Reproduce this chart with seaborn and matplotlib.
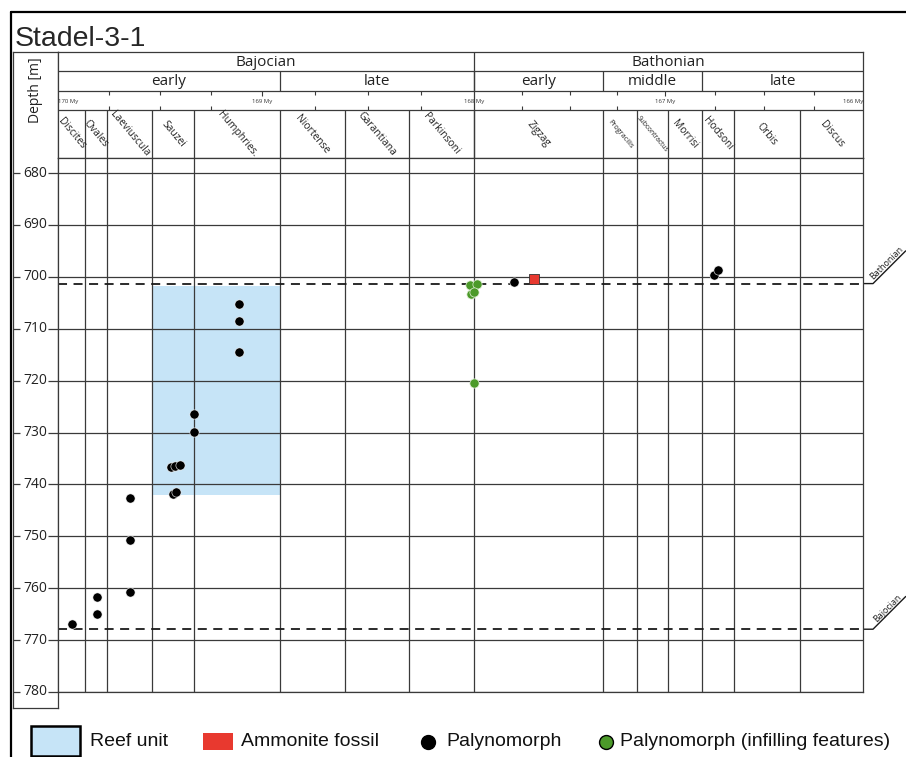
import numpy as np
import matplotlib.pyplot as plt
import matplotlib.transforms as mtransforms
from matplotlib.patches import Rectangle
import seaborn as sns

# ── data ───────────────────────────────────────────────────────────────────
STAGES = ["Bajocian", "Bathonian"]
STAGE_BOUNDS = [170.0, 168.0, 166.0]

SUBSTAGES = ["early", "late", "early", "middle", "late"]
SUBSTAGE_BOUNDS = [170.0, 168.915, 168.0, 167.325, 166.813, 166.0]

ZONES = ["Discites", "Ovales", "Laeviuscula", "Sauzei", "Humphries.",
         "Niortense", "Garantiana", "Parkinsoni", "Zigzag", "Progracilis",
         "Subcontractus", "Morrisi", "Hodsoni", "Orbis", "Discus"]
ZONE_BOUNDS = [170.0, 169.868, 169.760, 169.539, 169.333, 168.915, 168.608,
               168.307, 168.0, 167.325, 167.147, 166.985, 166.813, 166.652,
               166.318, 166.0]

MY_LABELS = [170, 169, 168, 167, 166]
DEPTH_TICKS = [680, 690, 700, 710, 720, 730, 740, 750, 760, 770, 780]

palyno_age = [169.933, 169.809, 169.809, 169.647, 169.647, 169.647,
              169.448, 169.426, 169.402, 169.438, 169.422,
              169.333, 169.333, 169.113, 169.113, 169.113,
              167.791, 166.753, 166.734]
palyno_depth = [766.9, 761.7, 765.0, 742.6, 750.7, 760.8,
                736.7, 736.4, 736.3, 741.9, 741.5,
                726.4, 729.9, 705.2, 708.6, 714.5,
                700.9, 699.7, 698.7]

infill_age = [168.019, 167.986, 168.016, 167.998, 168.0]
infill_depth = [701.6, 701.4, 703.3, 702.9, 720.4]

ammonite_age = [167.686]
ammonite_depth = [700.5]

reef_age = [169.539, 168.915]
reef_depth = [701.8, 742.0]

BOUNDARY_NAMES = ["Bathonian", "Bajocian"]
BOUNDARY_DEPTHS = [701.3, 767.9]

# ── style / layout ─────────────────────────────────────────────────────────
W, H = 906, 757
LINE = "#3a3a3a"
REEF = "#C6E4F7"
RED = "#E8392F"
GREEN = "#4C9A2A"
SMALL_ZONES = {"Progracilis": 5.2, "Subcontractus": 4.8}
DEPTH_TOP = 677.1

# piecewise age axis (the printed time scale is not quite linear);
# positions counted from the young (right) end so the mapping is increasing
AGE_KNOTS = np.array([166.0, 167.0, 168.0, 169.0, 170.0])
POS_KNOTS = np.array([0.0, 198.0, 389.0, 601.0, 805.0])


def _fwd(a):
    return np.interp(np.asarray(a, float), AGE_KNOTS, POS_KNOTS)


def _inv(p):
    return np.interp(np.asarray(p, float), POS_KNOTS, AGE_KNOTS)


def age_axis(ax):
    ax.set_xscale("function", functions=(_fwd, _inv))
    ax.set_xlim(170, 166)
    ax.set_xticks([])


def mid_age(a0, a1):
    return float(_inv((_fwd(a0) + _fwd(a1)) / 2))


sns.set_theme(style="white")
plt.rcParams["font.family"] = ["Open Sans", "DejaVu Sans"]

fig = plt.figure(figsize=(W / 100, H / 100), dpi=100)


def px_axes(x0, y0, x1, y1, **kw):
    return fig.add_axes([x0 / W, 1 - y1 / H, (x1 - x0) / W, (y1 - y0) / H], **kw)


# overlay in pixel coordinates: frame, title, legend
over = px_axes(0, 0, W, H, zorder=0)
over.set_xlim(0, W)
over.set_ylim(H, 0)
over.axis("off")
over.plot([11, 11], [H, 12], color="black", lw=1.6)
over.plot([11, W], [12, 12], color="black", lw=1.6)
over.text(15, 46, "Stadel-3-1", fontsize=20.5, va="baseline", ha="left",
          family="Liberation Sans")

# ── depth column ───────────────────────────────────────────────────────────
k = (692 - 158) / (780 - DEPTH_TOP)   # px per metre
dax = px_axes(13, 52, 58, 708, zorder=1)
dax.set_ylim(780 + 16 / k, DEPTH_TOP - 106 / k)
dax.set_xlim(0, 1)
dax.set_xticks([])
dax.set_yticks(DEPTH_TICKS)
dax.tick_params(axis="y", left=True, direction="in", length=5, width=0.9,
                color=LINE, labelleft=False)
for s in dax.spines.values():
    s.set_color(LINE)
    s.set_linewidth(0.9)
blend = mtransforms.blended_transform_factory(dax.transAxes, dax.transData)
for d in DEPTH_TICKS:
    dax.text(0.765, d, f"{d}", transform=blend, ha="right", va="center",
             fontsize=10, color="#222222")
dax.text(0.5, 0.942, "Depth [m]", transform=dax.transAxes, rotation=90,
         ha="center", va="center", fontsize=10, color="#222222")

# ── header ─────────────────────────────────────────────────────────────────
hax = px_axes(58, 52, 863, 158, zorder=1)
age_axis(hax)
hax.set_ylim(158, 52)
hax.set_yticks([])
for s in hax.spines.values():
    s.set_color(LINE)
    s.set_linewidth(0.9)
ROW_SUB, ROW_ZONE = (71, 91), (110, 158)
hax.hlines([71, 91, 110], 170, 166, color=LINE, lw=0.9)
hax.vlines(STAGE_BOUNDS[1:-1], 52, 158, color=LINE, lw=0.9)
hax.vlines(SUBSTAGE_BOUNDS[1:-1], *ROW_SUB, color=LINE, lw=0.9)
hax.vlines(ZONE_BOUNDS[1:-1], *ROW_ZONE, color=LINE, lw=0.9)

for name, a0, a1 in zip(STAGES, STAGE_BOUNDS[:-1], STAGE_BOUNDS[1:]):
    hax.text(mid_age(a0, a1), 62, name, ha="center", va="center",
             fontsize=11, color="#222")
for name, a0, a1 in zip(SUBSTAGES, SUBSTAGE_BOUNDS[:-1], SUBSTAGE_BOUNDS[1:]):
    hax.text(mid_age(a0, a1), 81.5, name, ha="center", va="center",
             fontsize=11, color="#222")
for name, a0, a1 in zip(ZONES, ZONE_BOUNDS[:-1], ZONE_BOUNDS[1:]):
    hax.text(mid_age(a0, a1), 134, name, ha="center", va="center",
             rotation=-50, rotation_mode="anchor",
             fontsize=SMALL_ZONES.get(name, 7.4), color="#222")

# My ticks every 0.25 My
quarters = np.arange(169.75, 166.0, -0.25)
for q in quarters:
    if abs(q - round(q)) < 1e-6:
        if round(q) != 168:
            hax.vlines(q, 91, 96, color=LINE, lw=0.8)
        continue
    hax.vlines(q, 91, 95, color=LINE, lw=0.8)
    hax.vlines(q, 106, 110, color=LINE, lw=0.8)
for i, m in enumerate(MY_LABELS):
    ha = "left" if i == 0 else ("right" if i == len(MY_LABELS) - 1 else "center")
    hax.text(m, 101, f"{m} My", ha=ha, va="center", fontsize=4.3, color="#333")

# ── data area ──────────────────────────────────────────────────────────────
ax = px_axes(58, 158, 863, 692, zorder=2)
age_axis(ax)

ax.fill_between(reef_age, reef_depth[0], reef_depth[1], color=REEF, lw=0,
                zorder=0.5)
ax.vlines(ZONE_BOUNDS[1:-1], DEPTH_TOP, 780, color=LINE, lw=0.9, zorder=1)

for depth in BOUNDARY_DEPTHS:
    ax.axhline(depth, color="#1a1a1a", lw=1.3, ls=(0, (5, 3.6)), zorder=2)

sns.scatterplot(x=infill_age, y=infill_depth, ax=ax, color=GREEN, s=44,
                edgecolor="#e6f0dc", linewidth=0.5, zorder=4)
sns.scatterplot(x=palyno_age, y=palyno_depth, ax=ax, color="black", s=44,
                edgecolor="white", linewidth=0.4, zorder=5)
sns.scatterplot(x=ammonite_age, y=ammonite_depth, ax=ax, color=RED, s=62,
                marker="s", edgecolor="#333333", linewidth=0.6, zorder=5)

ax.set_xlim(170, 166)
ax.set_ylim(780, DEPTH_TOP)
ax.set_yticks(DEPTH_TICKS)
ax.set_xlabel("")
ax.set_ylabel("")
ax.tick_params(axis="y", left=True, direction="out", length=7.2, width=0.9,
               color=LINE, labelleft=False)
ax.grid(axis="y", color=LINE, lw=0.9, zorder=1)
ax.set_axisbelow(False)
for s in ax.spines.values():
    s.set_color(LINE)
    s.set_linewidth(0.9)

# boundary labels beyond the right edge
fig.canvas.draw()
for name, depth in zip(BOUNDARY_NAMES, BOUNDARY_DEPTHS):
    x0, y0 = ax.transData.transform((166.0, depth))
    py = H - y0
    px = x0
    xs = [px, px + 10, px + 43]
    ys = [py, py, py - 33]
    over.plot(xs, ys, color="#1a1a1a", lw=1.0, solid_capstyle="butt",
              zorder=3)
    over.text(px + 24, py - 21, name, rotation=45, ha="center", va="center",
              fontsize=6.5, color="#222", rotation_mode="anchor")

# ── legend (drawn by hand to keep the key sizes of the original) ───────────
LEG = dict(fontsize=14, va="center", ha="left", family="Liberation Sans",
           color="#111")
over.add_patch(Rectangle((31, 726), 49, 30, fc=REEF, ec="black", lw=1.8))
over.text(90, 742, "Reef unit", **LEG)
over.add_patch(Rectangle((203, 733), 30, 17, fc=RED, ec="none"))
over.text(241, 742, "Ammonite fossil", **LEG)
over.plot([428], [742], "o", ms=10, color="black")
over.text(446, 742, "Palynomorph", **LEG)
over.plot([606], [742], "o", ms=10, mfc=GREEN, mec="black", mew=1.0)
over.text(620, 742, "Palynomorph (infilling features)", **LEG)

fig.savefig("out.png", dpi=100, facecolor="white")
